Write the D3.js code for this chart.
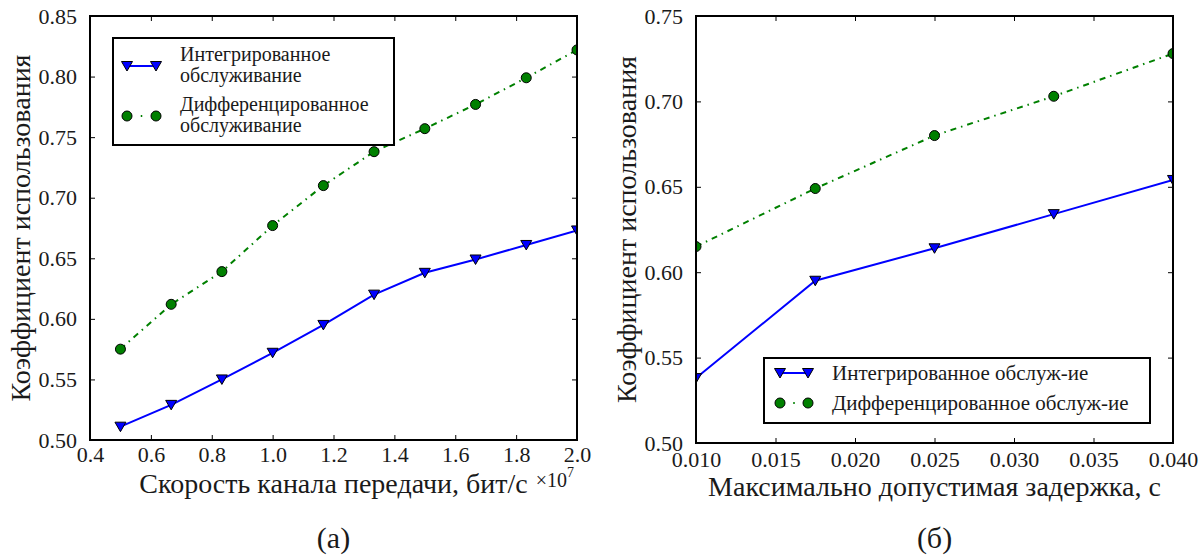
<!DOCTYPE html>
<html>
<head>
<meta charset="utf-8">
<script src="https://cdn.jsdelivr.net/npm/d3@7"></script>
</head>
<body style="margin:0">
<div id="chart"></div>
<script>
// panel (a): channel rate, units of 1e7 bit/s
const rateX = [0.5, 0.6667, 0.8333, 1.0, 1.1667, 1.3333, 1.5, 1.6667, 1.8333, 2.0]
const rateIntegrated = [0.511, 0.529, 0.550, 0.572, 0.595, 0.620, 0.638, 0.649, 0.661, 0.673]
const rateDiff = [0.575, 0.612, 0.639, 0.677, 0.710, 0.738, 0.757, 0.777, 0.799, 0.822]
const rateXTicks = [0.4, 0.6, 0.8, 1.0, 1.2, 1.4, 1.6, 1.8, 2.0]
const rateYTicks = [0.50, 0.55, 0.60, 0.65, 0.70, 0.75, 0.80, 0.85]

// panel (б): max allowed delay, s
const delayX = [0.010, 0.0175, 0.025, 0.0325, 0.040]
const delayIntegrated = [0.538, 0.595, 0.614, 0.634, 0.654]
const delayDiff = [0.615, 0.649, 0.680, 0.703, 0.728]
const delayXTicks = [0.010, 0.015, 0.020, 0.025, 0.030, 0.035, 0.040]
const delayYTicks = [0.50, 0.55, 0.60, 0.65, 0.70, 0.75]

const W = 1204, H = 558
const FONT = "'Liberation Serif', monospace"
const svg = d3.select("#chart").append("svg").attr("width", W).attr("height", H)

const blue = "#0000ff", green = "#008000"
const dashDot = "6,5,1.5,5"
const triPath = "M-5.5,-4.5L5.5,-4.5L0,5z"

function marker(g, type, x, y) {
  if (type === "tri") {
    g.append("path").attr("d", triPath).attr("transform", `translate(${x},${y})`)
      .attr("fill", blue).attr("stroke", "#000").attr("stroke-width", 1)
  } else {
    g.append("circle").attr("cx", x).attr("cy", y).attr("r", 5)
      .attr("fill", green).attr("stroke", "#000").attr("stroke-width", 1)
  }
}

function drawPanel(cfg) {
  const { box, xs, series, xTicks, yTicks, xFmt, yFmt, id } = cfg
  const x = d3.scaleLinear(cfg.xDomain, [box.left, box.right])
  const y = d3.scaleLinear(cfg.yDomain, [box.bottom, box.top])

  const clip = svg.append("clipPath").attr("id", id)
  clip.append("rect").attr("x", box.left).attr("y", box.top)
    .attr("width", box.right - box.left).attr("height", box.bottom - box.top)

  const plot = svg.append("g").attr("clip-path", `url(#${id})`)
  series.forEach(s => {
    const pts = xs.map((d, i) => [x(d), y(s.values[i])])
    plot.append("path").attr("d", d3.line()(pts))
      .attr("fill", "none").attr("stroke", s.color).attr("stroke-width", 2)
      .attr("stroke-dasharray", s.dash || null)
    pts.forEach(p => marker(plot, s.marker, p[0], p[1]))
  })

  // ticks point inward, on all four sides
  const axisStyle = g => {
    g.attr("font-family", null).attr("font-size", null)
    g.select(".domain").remove()
    g.selectAll(".tick line").attr("stroke", "#000").attr("stroke-width", 1)
    g.selectAll(".tick text").attr("font-size", 22)
  }
  svg.append("g").attr("transform", `translate(0,${box.bottom})`)
    .call(d3.axisBottom(x).tickValues(xTicks).tickFormat(xFmt).tickSizeInner(-5).tickPadding(cfg.xPad))
    .call(axisStyle)
  svg.append("g").attr("transform", `translate(0,${box.top})`)
    .call(d3.axisTop(x).tickValues(xTicks).tickFormat("").tickSizeInner(-5))
    .call(axisStyle)
  svg.append("g").attr("transform", `translate(${box.left},0)`)
    .call(d3.axisLeft(y).tickValues(yTicks).tickFormat(yFmt).tickSizeInner(-5).tickPadding(13))
    .call(axisStyle)
  svg.append("g").attr("transform", `translate(${box.right},0)`)
    .call(d3.axisRight(y).tickValues(yTicks).tickFormat("").tickSizeInner(-5))
    .call(axisStyle)

  svg.append("rect").attr("x", box.left).attr("y", box.top)
    .attr("width", box.right - box.left).attr("height", box.bottom - box.top)
    .attr("fill", "none").attr("stroke", "#000").attr("stroke-width", 2)

  const cx = (box.left + box.right) / 2, cy = (box.top + box.bottom) / 2
  svg.append("text").attr("x", cx).attr("y", box.bottom + 53)
    .attr("text-anchor", "middle").attr("font-size", 28).text(cfg.xLabel)
  svg.append("text").attr("transform", `translate(${cfg.yLabelX},${cy}) rotate(-90)`)
    .attr("text-anchor", "middle").attr("font-size", 28).text("Коэффициент использования")
  svg.append("text").attr("x", cx).attr("y", 548)
    .attr("text-anchor", "middle").attr("font-size", 30).text(cfg.tag)
}

drawPanel({
  id: "clipA",
  box: { left: 90, right: 577, top: 16, bottom: 440 },
  xDomain: [0.4, 2.0], yDomain: [0.50, 0.85],
  xs: rateX,
  series: [
    { values: rateIntegrated, color: blue, marker: "tri" },
    { values: rateDiff, color: green, marker: "circ", dash: dashDot }
  ],
  xTicks: rateXTicks, yTicks: rateYTicks, xPad: 6,
  xFmt: d3.format(".1f"), yFmt: d3.format(".2f"),
  xLabel: "Скорость канала передачи, бит/с",
  yLabelX: 30, tag: "(a)"
})

// offset text ×10^7 at the right end of the x axis
const off = svg.append("text").attr("x", 574).attr("y", 487).attr("text-anchor", "end")
off.append("tspan").attr("font-size", 20).text("×10")
off.append("tspan").attr("font-size", 14).attr("dy", -10).text("7")

drawPanel({
  id: "clipB",
  box: { left: 696, right: 1173, top: 16, bottom: 443 },
  xDomain: [0.010, 0.040], yDomain: [0.50, 0.75],
  xs: delayX,
  series: [
    { values: delayIntegrated, color: blue, marker: "tri" },
    { values: delayDiff, color: green, marker: "circ", dash: dashDot }
  ],
  xTicks: delayXTicks, yTicks: delayYTicks, xPad: 8,
  xFmt: d3.format(".3f"), yFmt: d3.format(".2f"),
  xLabel: "Максимально допустимая задержка, с",
  yLabelX: 636, tag: "(б)"
})

// legends; the dash-dot sample shows just the centre dot between the two circles
function legendEntry(g, type, x1, x2, y, color, dotted) {
  const half = (x2 - x1) / 2
  g.append("line").attr("x1", x1).attr("x2", x2).attr("y1", y).attr("y2", y)
    .attr("stroke", color).attr("stroke-width", 2)
    .attr("stroke-dasharray", dotted ? `0,${half - 0.75},1.5,100` : null)
  marker(g, type, x1, y)
  marker(g, type, x2, y)
}

const legA = svg.append("g")
legA.append("rect").attr("x", 113).attr("y", 38).attr("width", 281).attr("height", 107)
  .attr("fill", "#fff").attr("stroke", "#000").attr("stroke-width", 2)
legendEntry(legA, "tri", 127, 156, 66, blue, false)
legendEntry(legA, "circ", 127, 156, 116, green, true)
const legAText = [["Интегрированное", "обслуживание", 61], ["Дифференцированное", "обслуживание", 111]]
legAText.forEach(([a, b, yb]) => {
  legA.append("text").attr("x", 180).attr("y", yb).attr("font-size", 20).text(a)
  legA.append("text").attr("x", 180).attr("y", yb + 21).attr("font-size", 20).text(b)
})

const legB = svg.append("g")
legB.append("rect").attr("x", 764).attr("y", 358).attr("width", 386).attr("height", 65)
  .attr("fill", "#fff").attr("stroke", "#000").attr("stroke-width", 2)
legendEntry(legB, "tri", 780, 808, 373, blue, false)
legendEntry(legB, "circ", 780, 808, 403, green, true)
legB.append("text").attr("x", 832).attr("y", 380).attr("font-size", 21).text("Интегрированное обслуж-ие")
legB.append("text").attr("x", 832).attr("y", 410).attr("font-size", 21).text("Дифференцированное обслуж-ие")

svg.selectAll("text").style("font-family", FONT).attr("fill", "#1a1a1a")
</script>
</body>
</html>
